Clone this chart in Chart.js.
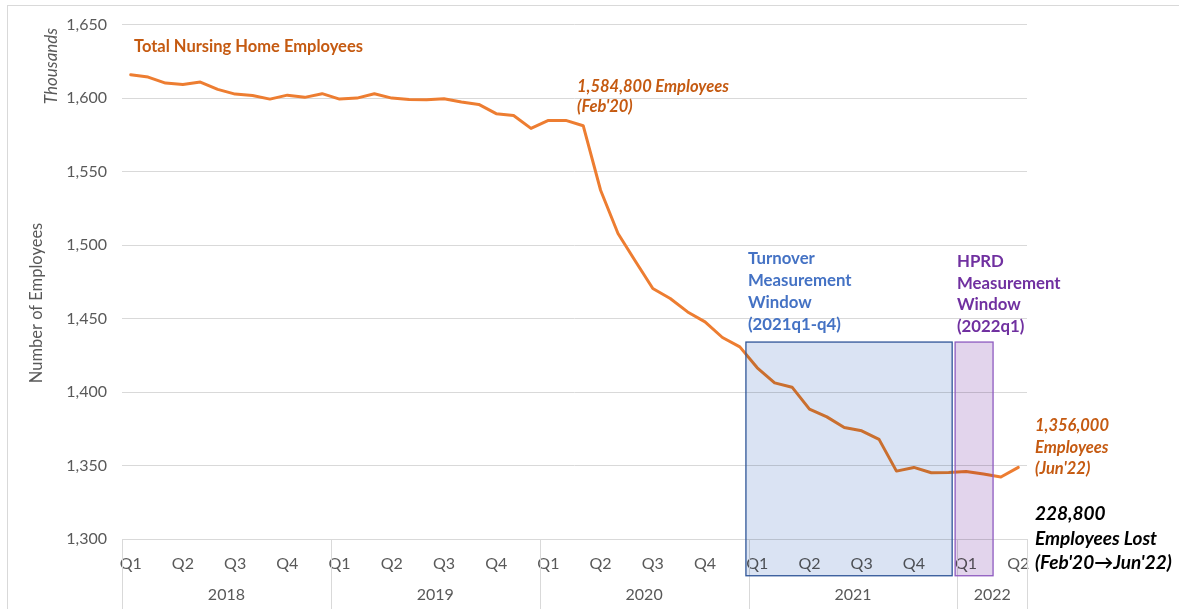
<!DOCTYPE html>
<html>
<head>
<meta charset="utf-8">
<script src="https://cdn.jsdelivr.net/npm/chart.js@4"></script>
<style>
  html,body{margin:0;padding:0;background:#fff;}
  #wrap{width:1179px;height:609px;}
</style>
</head>
<body>
<div id="wrap"><canvas id="c" width="1179" height="609"></canvas></div>
<script>
// ---- data ----
const categories = [
  '2018-01','2018-02','2018-03','2018-04','2018-05','2018-06','2018-07','2018-08','2018-09','2018-10','2018-11','2018-12',
  '2019-01','2019-02','2019-03','2019-04','2019-05','2019-06','2019-07','2019-08','2019-09','2019-10','2019-11','2019-12',
  '2020-01','2020-02','2020-03','2020-04','2020-05','2020-06','2020-07','2020-08','2020-09','2020-10','2020-11','2020-12',
  '2021-01','2021-02','2021-03','2021-04','2021-05','2021-06','2021-07','2021-08','2021-09','2021-10','2021-11','2021-12',
  '2022-01','2022-02','2022-03','2022-04'
];
// Total nursing home employees (thousands)
const employees = [
  1615.9,1614.3,1610.2,1609.3,1610.9,1605.9,1602.7,1601.8,1599.3,1602.0,1600.5,1603.0,
  1599.3,1600.0,1603.0,1600.0,1599.1,1598.8,1599.6,1597.3,1595.7,1589.4,1588.2,1579.4,
  1584.8,1584.8,1581.2,1537.3,1507.9,1489.0,1470.4,1463.6,1454.5,1447.7,1437.1,1430.7,
  1416.5,1406.2,1403.3,1388.4,1383.1,1375.9,1373.6,1367.8,1346.2,1348.7,1345.1,1345.3,
  1346.0,1344.2,1342.2,1348.7
];
const quarterLabels = ['Q1','Q2','Q3','Q4'];
const years = ['2018','2019','2020','2021','2022'];
const yTicks = [1300,1350,1400,1450,1500,1550,1600,1650];
// shaded measurement windows (category index range, value range)
const turnoverWindow = {x:[35.35,47.2], y:[1275,1434]};
const hprdWindow = {x:[47.37,49.55], y:[1275,1434]};

const FONT = 'Lato, "Open Sans", sans-serif';
const ORANGE_TXT = '#c55a11';

function drawLines(ctx, lines, x, y0, step, font, color){
  ctx.font = font; ctx.fillStyle = color; ctx.textAlign='left'; ctx.textBaseline='middle';
  lines.forEach((t,i)=>ctx.fillText(t, x, y0 + i*step));
}

const annot = {
  id:'annot',
  beforeDraw(chart){
    const c = chart.ctx; c.save();
    c.fillStyle='#fff'; c.fillRect(0,0,chart.width,chart.height);
    c.strokeStyle='#d9d9d9'; c.lineWidth=1;
    c.strokeRect(7.5,5.5,1400,800);
    c.restore();
  },
  afterDraw(chart){
    const c = chart.ctx, xs = chart.scales.x, ys = chart.scales.y, ca = chart.chartArea;
    c.save();
    // year row: dividers + labels
    c.strokeStyle='#d9d9d9'; c.lineWidth=1;
    let start = 0;
    const counts = {};
    categories.forEach(k=>{const yy=k.slice(0,4); counts[yy]=(counts[yy]||0)+1;});
    const bounds=[-0.5];
    years.forEach(yy=>{ start += counts[yy]; bounds.push(start-0.5); });
    bounds.forEach(b=>{
      const px = Math.round(xs.getPixelForValue(b))+0.5;
      c.beginPath(); c.moveTo(px, ca.bottom); c.lineTo(px, chart.height); c.stroke();
    });
    c.font = '16px '+FONT; c.fillStyle='#595959'; c.textAlign='center'; c.textBaseline='middle';
    years.forEach((yy,i)=>{
      const mid = (bounds[i]+bounds[i+1])/2;
      c.fillText(yy, xs.getPixelForValue(mid), 595);
    });
    // windows (multiply blend so the line and gridlines show through darker)
    const box = (w, fill, stroke)=>{
      const x1 = xs.getPixelForValue(w.x[0]), x2 = xs.getPixelForValue(w.x[1]);
      const y1 = ys.getPixelForValue(w.y[1]), y2 = ys.getPixelForValue(w.y[0]);
      c.save();
      c.globalCompositeOperation = 'multiply';
      c.fillStyle = fill; c.fillRect(x1,y1,x2-x1,y2-y1);
      c.restore();
      c.strokeStyle = stroke; c.lineWidth = 1.3; c.strokeRect(x1,y1,x2-x1,y2-y1);
    };
    box(turnoverWindow, 'rgb(218,227,243)', '#2f5597');
    box(hprdWindow, 'rgb(226,212,236)', '#8e5bc0');

    // axis titles
    c.fillStyle='#595959'; c.textAlign='center'; c.textBaseline='middle';
    c.save(); c.translate(37, 303); c.rotate(-Math.PI/2); c.font='16.5px '+FONT; c.fillText('Number of Employees',0,0); c.restore();
    c.save(); c.translate(52, 66); c.rotate(-Math.PI/2); c.font='italic 17px '+FONT; c.fillText('Thousands',0,0); c.restore();

    // text annotations
    drawLines(c, ['Total Nursing Home Employees'], 134, 47, 21, 'bold 16.5px '+FONT, ORANGE_TXT);
    drawLines(c, ["1,584,800 Employees","(Feb'20)"], 577, 87, 20, 'italic bold 16.5px '+FONT, ORANGE_TXT);
    drawLines(c, ['Turnover','Measurement','Window','(2021q1-q4)'], 748, 259, 22, 'bold 16.8px '+FONT, '#4472c4');
    drawLines(c, ['HPRD','Measurement','Window','(2022q1)'], 957, 262, 21.5, 'bold 16.8px '+FONT, '#7030a0');
    drawLines(c, ['1,356,000','Employees',"(Jun'22)"], 1035, 426, 21.5, 'italic bold 16.5px '+FONT, ORANGE_TXT);
    drawLines(c, ['228,800','Employees Lost',"(Feb'20\u2192Jun'22)"], 1035, 514, 24.5, 'italic bold 19px '+FONT, '#000');
    c.restore();
  }
};

new Chart(document.getElementById('c'), {
  type:'line',
  data:{
    labels: categories,
    datasets:[{
      label:'Total Nursing Home Employees',
      data: employees,
      borderColor:'#ed7d31',
      borderWidth:3,
      pointRadius:0,
      tension:0,
      fill:false,
      borderCapStyle:'round',
      borderJoinStyle:'round'
    }]
  },
  options:{
    responsive:false,
    animation:false,
    devicePixelRatio:1,
    layout:{padding:{left:0, top:24, right:152, bottom:0}},
    plugins:{legend:{display:false}, tooltip:{enabled:false}, title:{display:false}},
    scales:{
      x:{
        type:'category',
        offset:true,
        grid:{display:false, drawTicks:false},
        border:{display:true, color:'#d9d9d9', width:1},
        ticks:{
          autoSkip:false, maxRotation:0, minRotation:0, padding:15,
          color:'#595959', font:{family:FONT, size:16},
          callback:(v,i)=>{ const m = parseInt(categories[i].slice(5),10)-1; return m%3===0 ? quarterLabels[m/3] : ''; }
        },
        afterFit:(s)=>{ s.height = 70; }
      },
      y:{
        min:1300, max:1650,
        afterBuildTicks:(s)=>{ s.ticks = yTicks.map(v=>({value:v})); },
        grid:{color:'#d9d9d9', lineWidth:1, drawTicks:false},
        border:{display:false},
        ticks:{
          padding:15, color:'#595959', font:{family:FONT, size:16},
          callback:(v)=>Number(v).toLocaleString('en-US')
        },
        afterFit:(s)=>{ s.width = 122; }
      }
    }
  },
  plugins:[annot]
});
</script>
</body>
</html>
